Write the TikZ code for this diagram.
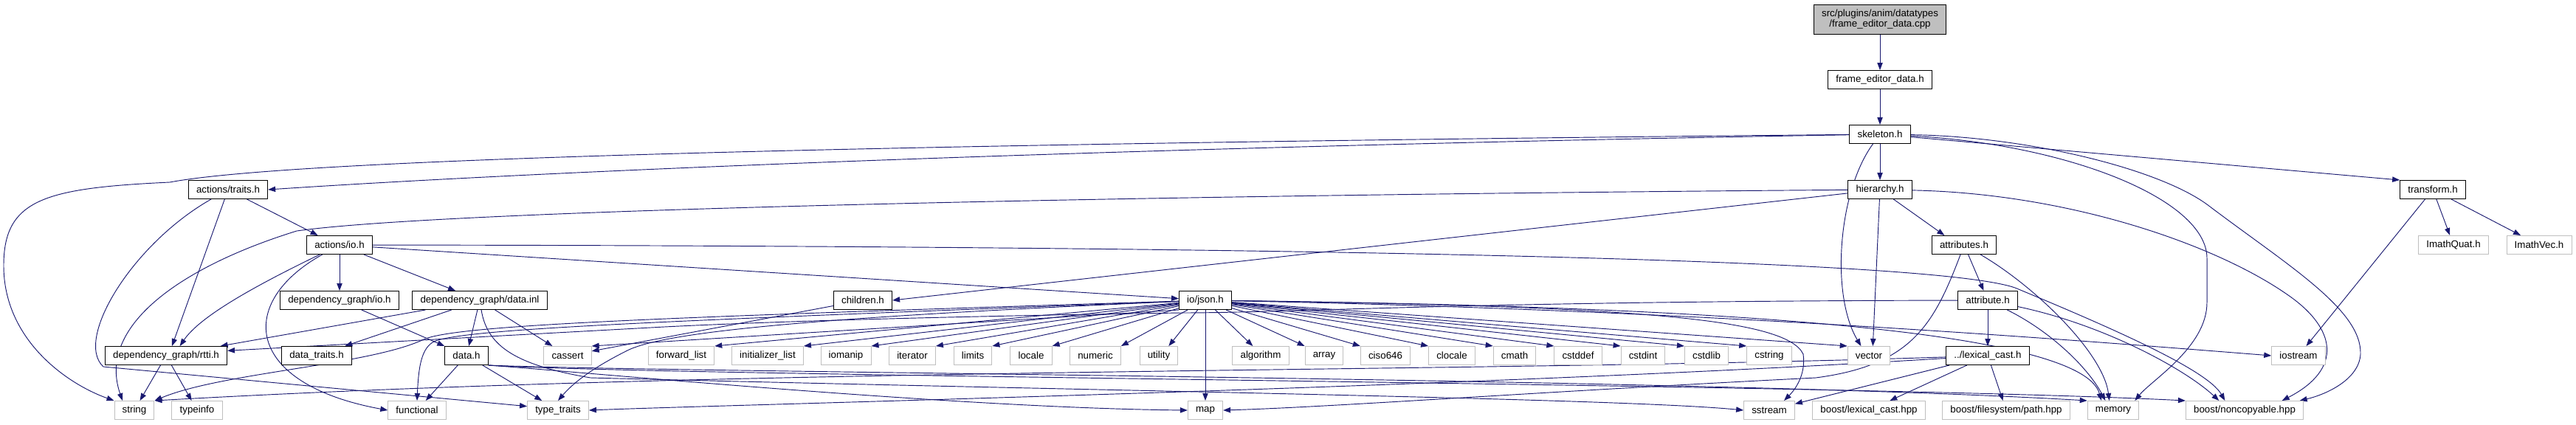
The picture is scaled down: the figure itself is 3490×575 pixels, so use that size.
\documentclass[tikz,border=0pt]{standalone}
\usepackage{fontspec}
\setmainfont{Liberation Sans}
\usetikzlibrary{arrows.meta}
\definecolor{edgecol}{HTML}{191970}
\definecolor{greyb}{HTML}{BFBFBF}
\pgfdeclarelayer{bg}
\pgfsetlayers{bg,main}
\begin{document}
\begin{tikzpicture}[x=0.75pt,y=-0.75pt,
  box/.style={rectangle, font=\fontsize{10}{10.5}\selectfont, inner xsep=8pt, inner ysep=0pt, minimum height=18.75pt, line width=0.75pt, fill=white},
  doc/.style={box, draw=black},
  ext/.style={box, draw=greyb},
  rootbox/.style={box, draw=black, fill=greyb, align=center, minimum height=30pt},
  edge/.style={draw=edgecol, line width=0.7pt, -{Triangle[length=7.5pt,width=5.5pt]}}]
\useasboundingbox (0,0) rectangle (3490,575);

% nodes
\node[rootbox] (top) at (2547,26) {src/plugins/anim/datatypes\\/frame\_editor\_data.cpp};
\node[doc] (feh) at (2547,108) {frame\_editor\_data.h};
\node[doc] (skel) at (2547,182) {skeleton.h};
\node[doc] (hier) at (2547,257) {hierarchy.h};
\node[doc] (trans) at (3296,257) {transform.h};
\node[doc] (traits) at (309,257) {actions/traits.h};
\node[doc] (aio) at (460,332) {actions/io.h};
\node[doc] (attrs) at (2661,332) {attributes.h};
\node[ext] (iquat) at (3324,332) {ImathQuat.h};
\node[ext] (ivec) at (3440,332) {ImathVec.h};
\node[doc] (dgio) at (460,407) {dependency\_graph/io.h};
\node[doc] (dinl) at (650,407) {dependency\_graph/data.inl};
\node[doc] (child) at (1169,407) {children.h};
\node[doc] (json) at (1633,407) {io/json.h};
\node[doc] (attr) at (2693,407) {attribute.h};
\node[doc] (rtti) at (225,482) {dependency\_graph/rtti.h};
\node[doc] (dtraits) at (429,482) {data\_traits.h};
\node[doc] (datah) at (632,482) {data.h};
\node[ext] (cassert) at (769,482) {cassert};
\node[ext] (fwd) at (923,482) {forward\_list};
\node[ext] (initl) at (1040,482) {initializer\_list};
\node[ext] (iomanip) at (1146,482) {iomanip};
\node[ext] (iter) at (1236,482) {iterator};
\node[ext] (limits) at (1318,482) {limits};
\node[ext] (locale) at (1397,482) {locale};
\node[ext] (numeric) at (1484,482) {numeric};
\node[ext] (utility) at (1570,482) {utility};
\node[ext] (algo) at (1708,482) {algorithm};
\node[ext] (array) at (1794,482) {array};
\node[ext] (ciso) at (1877,482) {ciso646};
\node[ext] (clocale) at (1967,482) {clocale};
\node[ext] (cmath) at (2052,482) {cmath};
\node[ext] (cstddef) at (2138,482) {cstddef};
\node[ext] (cstdint) at (2226,482) {cstdint};
\node[ext] (cstdlib) at (2312,482) {cstdlib};
\node[ext] (cstring) at (2397,482) {cstring};
\node[ext] (vector) at (2532,482) {vector};
\node[doc] (lexc) at (2693,482) {../lexical\_cast.h};
\node[ext] (iostream) at (3114,482) {iostream};
\node[ext] (string) at (182,556) {string};
\node[ext] (typeinfo) at (267,556) {typeinfo};
\node[ext] (functional) at (565,556) {functional};
\node[ext] (ttraits) at (756,556) {type\_traits};
\node[ext] (map) at (1633,556) {map};
\node[ext] (sstream) at (2397,556) {sstream};
\node[ext] (blex) at (2532,556) {boost/lexical\_cast.hpp};
\node[ext] (bpath) at (2718,556) {boost/filesystem/path.hpp};
\node[ext] (memory) at (2863,556) {memory};
\node[ext] (noncopy) at (3041,556) {boost/noncopyable.hpp};

\begin{pgfonlayer}{bg}
% top chain
\draw[edge] (top) -- (feh);
\draw[edge] (feh) -- (skel);
% skeleton.h
\draw[edge] (skel) .. controls (1600,198) and (800,228) .. (traits.east);
\draw[edge] (skel) -- (hier);
\draw[edge] (skel) -- (trans.north west);
\draw[edge] (skel) .. controls (1200,195) and (400,215) .. (230,247) .. controls (60,255) and (5,270) .. (5,360) .. controls (5,460) and (90,520) .. (string.north west);
\draw[edge] (skel) .. controls (2490,260) and (2480,400) .. ([xshift=-8pt]vector.north);
\draw[edge] (skel) .. controls (2800,195) and (2990,270) .. (2990,350) -- (2990,410) .. controls (2990,470) and (2915,515) .. ([xshift=22pt]memory.north);
\draw[edge] (skel) .. controls (2750,185) and (2930,230) .. (2994,280) .. controls (3100,360) and (3200,420) .. (3198,480) .. controls (3196,515) and (3150,535) .. ([xshift=56pt]noncopy.north);
% hierarchy.h
\draw[edge] (hier) .. controls (1500,265) and (600,285) .. (402,313) .. controls (250,360) and (130,440) .. ([xshift=-12pt]string.north);
\draw[edge] (hier) -- (child.east);
\draw[edge] (hier) -- ([xshift=4pt]vector.north);
\draw[edge] (hier) -- ([xshift=-20pt]attrs.north);
\draw[edge] (hier) .. controls (2800,262) and (3000,330) .. (3100,400) .. controls (3165,445) and (3175,500) .. ([xshift=38pt]noncopy.north);
% transform.h
\draw[edge] (trans) -- (iquat);
\draw[edge] (trans) -- (ivec);
\draw[edge] (trans) -- (iostream);
% actions/traits.h
\draw[edge] (traits) .. controls (180,330) and (100,460) .. (140,497) -- ([yshift=4pt]ttraits.west);
\draw[edge] (traits) -- ([xshift=6pt]rtti.north);
\draw[edge] (traits) -- ([xshift=-22pt]aio.north);
% actions/io.h
\draw[edge] (aio) -- (dgio);
\draw[edge] (aio) -- (dinl);
\draw[edge] (aio) .. controls (340,390) and (270,430) .. ([xshift=14pt]rtti.north);
\draw[edge] (aio) .. controls (320,410) and (330,520) .. (functional.west);
\draw[edge] (aio) -- (json);
\draw[edge] (aio) .. controls (1500,333) and (2600,345) .. (2730,390) .. controls (2850,440) and (2990,500) .. ([xshift=-20pt]noncopy.north);
% dependency_graph/io.h, data.inl
\draw[edge] (dgio) -- (datah);
\draw[edge] (dinl) -- (rtti);
\draw[edge] (dinl) -- (dtraits);
\draw[edge] (dinl) -- (datah);
\draw[edge] (dinl) -- (cassert);
\draw[edge] (dinl) .. controls (660,470) and (700,495) .. (800,512) .. controls (1500,530) and (2200,540) .. (sstream.west);
% children.h
\draw[edge] (child) -- (cassert);
% data.h
\draw[edge] (datah) -- (functional);
\draw[edge] (datah) -- (ttraits);
\draw[edge] (datah.south east) .. controls (800,505) and (1300,553) .. (map.west);
\draw[edge] (datah.south east) .. controls (900,505) and (2300,512) .. (memory.north west);
\draw[edge] (datah.south east) .. controls (900,510) and (2500,520) .. (noncopy.north west);
% rtti.h
\draw[edge] (rtti) -- (string);
\draw[edge] (rtti) -- (typeinfo);
% io/json.h
\draw[edge] (json.south west) -- (cassert.north east);
\draw[edge] (json) -- (fwd.north east);
\draw[edge] (json) -- (initl.north east);
\draw[edge] (json) -- (iomanip.north east);
\draw[edge] (json) -- (iter.north east);
\draw[edge] (json) -- (limits.north east);
\draw[edge] (json) -- (locale.north east);
\draw[edge] (json) -- (numeric.north east);
\draw[edge] (json) -- ([xshift=10pt]utility.north);
\draw[edge] (json) -- ([xshift=-8pt]algo.north);
\draw[edge] (json) -- (array.north west);
\draw[edge] (json) -- (ciso.north west);
\draw[edge] (json) -- (clocale.north west);
\draw[edge] (json) -- (cmath.north west);
\draw[edge] (json) -- (cstddef.north west);
\draw[edge] (json) -- (cstdint.north west);
\draw[edge] (json) -- (cstdlib.north west);
\draw[edge] (json) -- (cstring.north west);
\draw[edge] (json) -- (vector.north west);
\draw[edge] (json) -- (map);
\draw[edge] (json) .. controls (900,430) and (620,440) .. (574,460) .. controls (500,495) and (300,505) .. (string.north east);
\draw[edge] (json) .. controls (900,435) and (640,445) .. (590,462) .. controls (570,470) and (567,500) .. (functional.north);
\draw[edge] (json) .. controls (1100,430) and (900,450) .. (850,475) .. controls (810,495) and (780,515) .. (ttraits.north);
\draw[edge] (json) .. controls (2200,415) and (2420,430) .. (2443,480) .. controls (2447,510) and (2430,530) .. ([xshift=15pt]sstream.north);
\draw[edge] (json) .. controls (2300,420) and (2800,460) .. (iostream.west);
\draw[edge] (json) .. controls (2300,415) and (2820,445) .. ([xshift=-12pt]memory.north);
% attributes.h
\draw[edge] (attrs) -- (attr);
\draw[edge] (attrs) .. controls (2760,390) and (2850,480) .. ([xshift=-4pt]memory.north);
\draw[edge] (attrs) .. controls (2620,440) and (2590,495) .. (2460,512) .. controls (2100,530) and (1800,552) .. (map.east);
% attribute.h
\draw[edge] (attr) -- (lexc);
\draw[edge] (attr) .. controls (2780,450) and (2830,500) .. ([xshift=-8pt]memory.north);
\draw[edge] (attr) .. controls (2850,440) and (2960,500) .. ([xshift=-26pt]noncopy.north);
\draw[edge] (attr) .. controls (2000,408) and (1750,424) .. (1600,424) .. controls (1200,430) and (1000,438) .. (900,443) -- ([yshift=5pt]rtti.east);
% lexical_cast.h
\draw[edge] (lexc) -- (blex);
\draw[edge] (lexc) -- (bpath);
\draw[edge] (lexc) -- (sstream);
\draw[edge] (lexc) .. controls (2000,505) and (1000,498) .. (string.north east);
\draw[edge] (lexc) .. controls (2000,525) and (1000,548) .. (ttraits.east);
\end{pgfonlayer}
\end{tikzpicture}
\end{document}
